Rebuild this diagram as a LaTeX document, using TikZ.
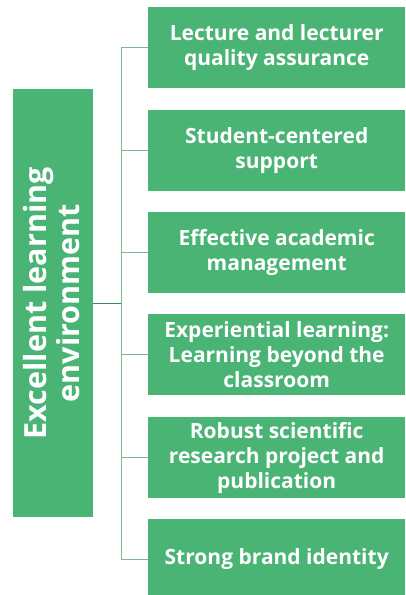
\documentclass[tikz,border=0pt]{standalone}
\usepackage{fontspec}
\setmainfont{Open Sans}
\definecolor{boxgreen}{RGB}{74,180,117}
\definecolor{linegreen}{RGB}{120,186,142}
\definecolor{darkline}{RGB}{60,140,90}
\begin{document}
\begin{tikzpicture}[x=1pt,y=-1pt,
  item/.style={fill=boxgreen,draw=none,minimum width=257pt,minimum height=81pt,anchor=north west,inner sep=0pt,
     text=white,align=center,font=\bfseries\fontsize{21}{25}\selectfont},
  conn/.style={draw=linegreen,line width=1pt}]
\useasboundingbox (0,0) rectangle (405,595);
\node[fill=boxgreen,minimum width=80pt,minimum height=428pt,anchor=north west,inner sep=0pt] (main) at (13,89) {};
\node[rotate=90,text=white,align=center,font=\bfseries\fontsize{30.5}{33}\selectfont] (mainlabel) at ([xshift=-2pt]main.center) {Excellent learning\\environment};
\node[item] (b1) at (148,7) {Lecture and lecturer\\quality assurance};
\node[item] (b2) at (148,110) {Student-centered\\support};
\node[item] (b3) at (148,212) {Effective academic\\management};
\node[item] (b4) at (148,314) {Experiential learning:\\Learning beyond the\\classroom};
\node[item] (b5) at (148,417) {Robust scientific\\research project and\\publication};
\node[item,minimum height=80pt] (b6) at (148,519) {Strong brand identity};
\coordinate (t1) at (121,0);
\path (b1.west) -| coordinate (v1) (t1);
\path (b6.west) -| coordinate (v6) (t1);
\path (main.east) -| coordinate (vm) (t1);
\draw[conn] (v1) -- (v6);
\foreach \b in {b1,b2,b3,b4,b5,b6}{
  \draw[conn] (\b.west) -- (\b.west -| t1);
}
\draw[draw=darkline,line width=1pt] (main.east) -- (vm);
\end{tikzpicture}
\end{document}
